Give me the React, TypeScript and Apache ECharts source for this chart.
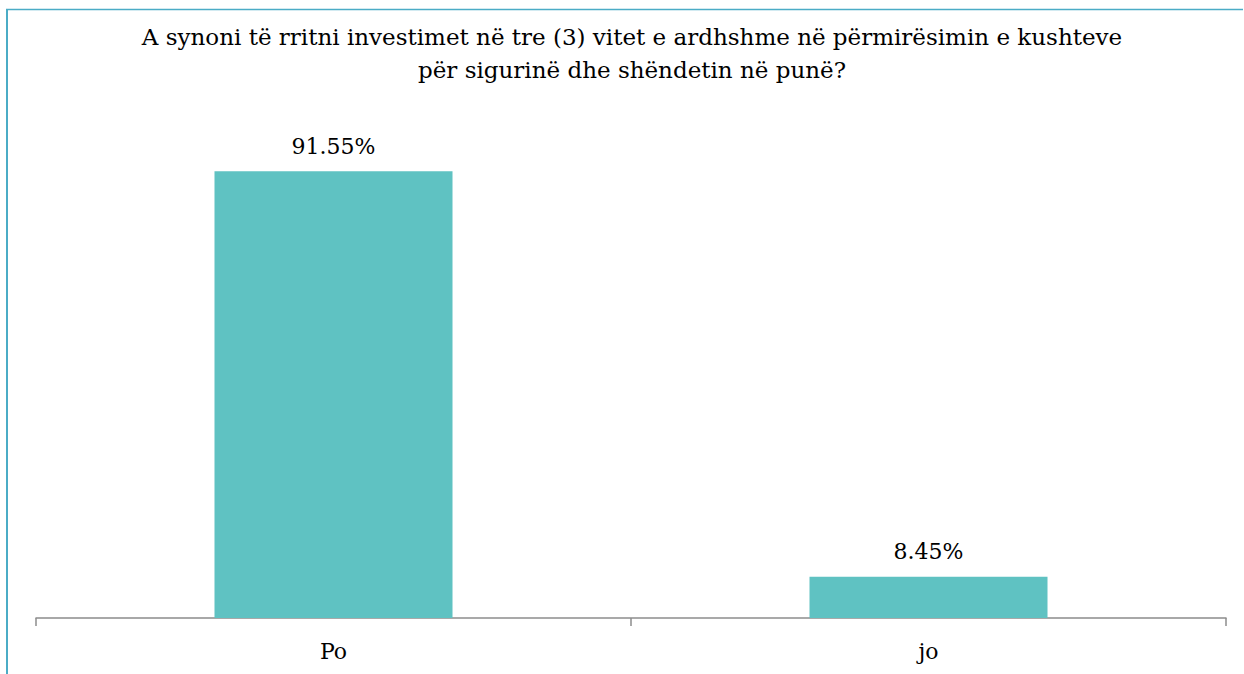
import React, { useEffect, useRef } from "react";
import * as echarts from "echarts";

const categories = ["Po", "jo"];
const values = [91.55, 8.45];
const titleLines = [
  "A synoni të rritni investimet në tre (3) vitet e ardhshme në përmirësimin e kushteve",
  "për sigurinë dhe shëndetin në punë?",
];

export default function App() {
  const ref = useRef<HTMLDivElement>(null);
  useEffect(() => {
    if (!ref.current) return;
    const chart = echarts.init(ref.current, undefined, { renderer: "svg" });
    const font = "DejaVu Serif";
    chart.setOption({
      animation: false,
      backgroundColor: "#ffffff",
      textStyle: { fontFamily: font },
      title: {
        text: titleLines.join("\n"),
        left: 632,
        top: 20,
        textAlign: "center",
        padding: 0,
        textStyle: {
          fontFamily: font,
          fontSize: 23,
          fontWeight: "normal",
          lineHeight: 33,
          color: "#000000",
        },
      },
      graphic: [
        {
          type: "line",
          shape: { x1: 7, y1: 9, x2: 7, y2: 674 },
          style: { stroke: "#4bacc6", lineWidth: 2 },
        },
        {
          type: "line",
          shape: { x1: 6, y1: 9.5, x2: 1243, y2: 9.5 },
          style: { stroke: "#4bacc6", lineWidth: 1.5 },
        },
      ],
      grid: { left: 36, right: 18, top: 130, bottom: 56, containLabel: false },
      xAxis: {
        type: "category",
        data: categories,
        axisLine: { lineStyle: { color: "#8c8c8c", width: 1.5 } },
        axisTick: { show: true, length: 8, lineStyle: { color: "#8c8c8c", width: 1.5 } },
        axisLabel: { fontFamily: font, fontSize: 22, color: "#000000", margin: 22 },
      },
      yAxis: {
        type: "value",
        min: 0,
        max: 100,
        show: false,
        splitLine: { show: false },
      },
      series: [
        {
          type: "bar",
          data: values,
          barWidth: "40%",
          itemStyle: { color: "#5fc2c2" },
          label: {
            show: true,
            position: "top",
            distance: 14,
            formatter: (p: any) => p.value.toFixed(2) + "%",
            fontFamily: font,
            fontSize: 22,
            color: "#000000",
          },
        },
      ],
    });
    return () => chart.dispose();
  }, []);
  return (
    <div
      ref={ref}
      style={{ position: "absolute", left: 0, top: 0, width: 1244, height: 674 }}
    />
  );
}
